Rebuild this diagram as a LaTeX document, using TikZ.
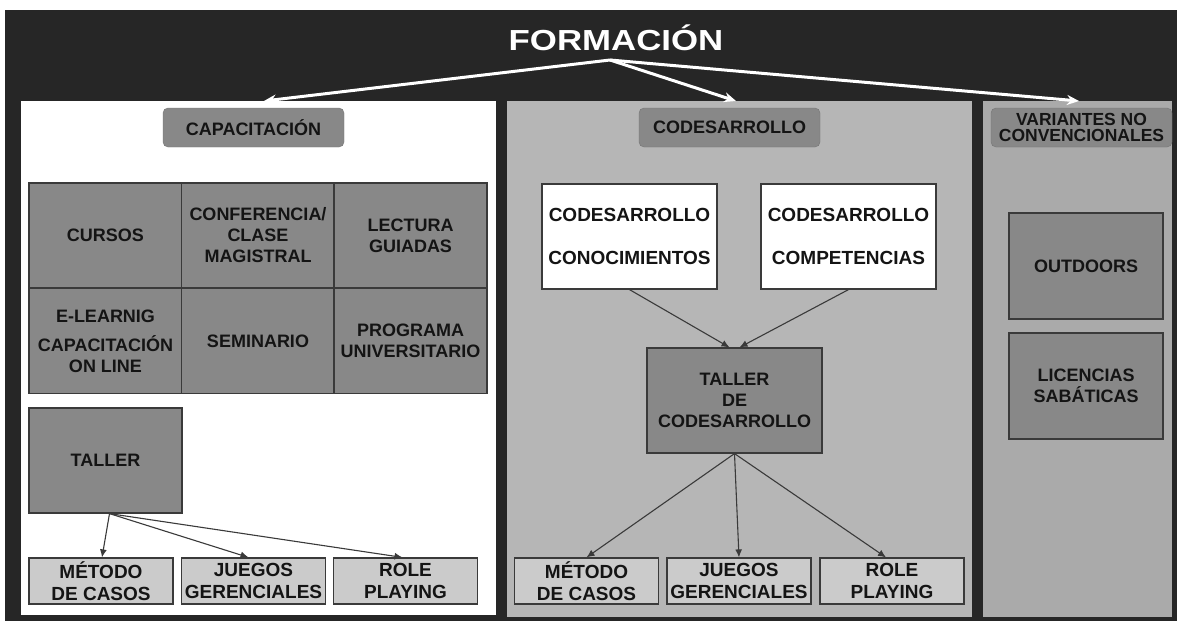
\documentclass[tikz,border=0pt]{standalone}
\usepackage{fontspec}
\setmainfont{Liberation Sans}
\usepackage{graphicx}
\usetikzlibrary{arrows.meta,positioning}
\definecolor{bgdark}{HTML}{262626}
\definecolor{boxgray}{HTML}{888888}
\definecolor{leafgray}{HTML}{CBCBCB}
\definecolor{midpanel}{HTML}{B6B6B6}
\definecolor{sidepanel}{HTML}{AAAAAA}
\definecolor{edge}{HTML}{3A3A3A}
\definecolor{ink}{HTML}{141414}
\tikzset{
  panel/.style={ % one column of the chart
    rectangle, anchor=north west, inner sep=0pt, draw=none
  },
  heading/.style={ % rounded title of a column
    draw=edge!70, rounded corners=5pt, fill=boxgray,
    minimum width=181pt, minimum height=39pt, inner sep=0pt,
    align=center, text=ink, font=\bfseries\fontsize{18}{21}\selectfont
  },
  cell/.style={ % dark grey box
    draw=edge, line width=1.2pt, fill=boxgray,
    minimum width=153pt, minimum height=105pt, inner sep=1pt,
    align=center, text=ink, font=\bfseries\fontsize{18}{21}\selectfont
  },
  leaf/.style={ % light grey box at the bottom
    draw=edge, line width=1.2pt, fill=leafgray,
    minimum width=144pt, minimum height=46pt, inner sep=0pt,
    align=center, text=ink, font=\bfseries\fontsize{19}{22}\selectfont
  },
  plain/.style={ % white box
    draw=edge, line width=1.2pt, fill=white,
    minimum width=175pt, minimum height=105pt, inner sep=0pt,
    align=center, text=ink, font=\bfseries\fontsize{19}{21}\selectfont
  },
  link/.style={
    draw=edge, line width=1.1pt, -{Latex[length=8pt,width=7pt]}
  },
  trunk/.style={
    draw=white, line width=3pt, -{Stealth[length=12pt,width=10pt]}
  }
}

\begin{document}
\begin{tikzpicture}[x=1pt, y=-1pt]
  \useasboundingbox (0,0) rectangle (1177,621);
  \fill[bgdark] (5,10) rectangle (1177,621);

  % columns
  \node[panel, fill=white, minimum width=475pt, minimum height=514pt] (capPanel) at (21,101) {};
  \node[panel, fill=midpanel, minimum width=465pt, minimum height=516pt] (codPanel) at (507,101) {};
  \node[panel, fill=sidepanel, minimum width=189pt, minimum height=516pt] (varPanel) at (983,101) {};

  % top
  \node[text=white, font=\bfseries\fontsize{29}{32}\selectfont] (formacion) at (616,38) {\scalebox{1.2}[1]{FORMACIÓN}};
  \coordinate (hub) at (610,60);
  \coordinate (capTip) at (264,101);
  \coordinate (codTip) at (736,101);
  \coordinate (varTip) at (1079,101);
  \draw[trunk] (hub) -- (capTip);
  \draw[trunk] (hub) -- (codTip);
  \draw[trunk] (hub) -- (varTip);

  \node[heading] (capTitle) at (253.5,127.5) {CAPACITACIÓN};
  \node[heading] (codTitle) at (729.5,127.5) {CODESARROLLO};
  \node[heading, font=\bfseries\fontsize{17.5}{16.5}\selectfont] (varTitle) at (1081.5,127.5) {VARIANTES NO\\CONVENCIONALES};

  % capacitacion
  \node[cell] (cursos) at (105.5,235.5) {CURSOS};
  \node[cell] (conferencia) at (258,235.5) {CONFERENCIA/\\CLASE\\MAGISTRAL};
  \node[cell] (lectura) at (410.5,235.5) {LECTURA\\GUIADAS};
  \node[cell] (elearning) at (105.5,341) {E-LEARNIG\\[8pt]CAPACITACIÓN\\ON LINE};
  \node[cell] (seminario) at (258,341) {SEMINARIO};
  \node[cell] (programa) at (410.5,341) {PROGRAMA\\UNIVERSITARIO};
  \node[cell] (taller) at (105.5,460.5) {TALLER};
  \node[leaf] (metodoA) at (101,581) {MÉTODO\\DE CASOS};
  \node[leaf] (juegosA) at (253.5,581) {JUEGOS\\GERENCIALES};
  \node[leaf] (roleA) at (405.5,581) {ROLE\\PLAYING};
  \draw[link] ([xshift=4pt]taller.south) -- ([xshift=1pt]metodoA.north);
  \draw[link] ([xshift=4pt]taller.south) -- ([xshift=-5pt]juegosA.north);
  \draw[link] ([xshift=4pt]taller.south) -- ([xshift=-3pt]roleA.north);

  % codesarrollo
  \node[plain] (conocimientos) at (629.5,236.5) {CODESARROLLO\\[22pt]CONOCIMIENTOS};
  \node[plain] (competencias) at (848.5,236.5) {CODESARROLLO\\[22pt]COMPETENCIAS};
  \node[cell, minimum width=175pt] (tallerCod) at (734.5,400.5) {TALLER\\DE\\CODESARROLLO};
  \node[leaf] (metodoB) at (586.5,581) {MÉTODO\\DE CASOS};
  \node[leaf] (juegosB) at (739,581) {JUEGOS\\GERENCIALES};
  \node[leaf] (roleB) at (892,581) {ROLE\\PLAYING};
  \draw[link] (conocimientos.south) -- ([xshift=-5pt]tallerCod.north);
  \draw[link] (competencias.south) -- ([xshift=5pt]tallerCod.north);
  \draw[link] (tallerCod.south) -- (metodoB.north);
  \draw[link] (tallerCod.south) -- (juegosB.north);
  \draw[link] (tallerCod.south) -- ([xshift=-6pt]roleB.north);

  % variantes
  \node[cell, minimum width=154pt, minimum height=106pt] (outdoors) at (1086,266) {OUTDOORS};
  \node[cell, minimum width=154pt, minimum height=106pt] (licencias) at (1086,386) {LICENCIAS\\SABÁTICAS};
\end{tikzpicture}
\end{document}
